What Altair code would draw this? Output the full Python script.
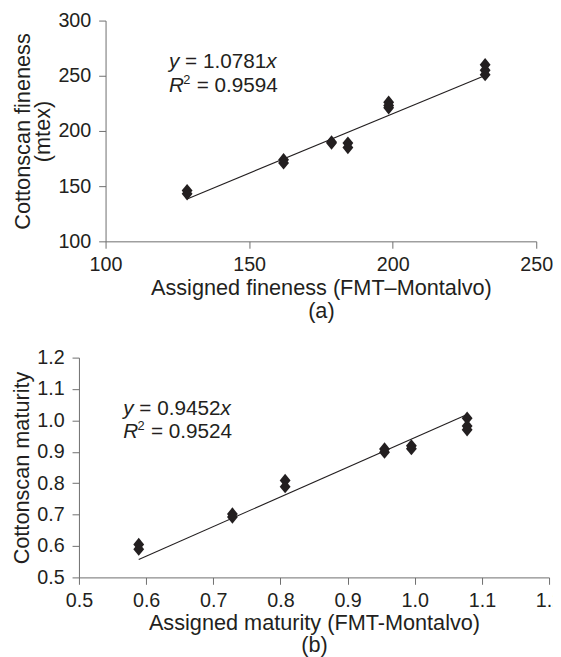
import altair as alt
import pandas as pd

# ---------------- data ----------------
# Panel (a): fineness
fin_x = [128.4, 128.4, 162.0, 162.0, 178.7, 178.7, 184.4, 184.4,
         198.6, 198.6, 198.6, 232.2, 232.2, 232.2]
fin_y = [146, 143, 174, 171, 190, 189, 189, 185,
         226, 223, 221, 260, 255, 251]
fin_slope = 1.0781
fin_eq = "= 1.0781"
fin_r2 = "= 0.9594"
fin_xticks = [100, 150, 200, 250]
fin_yticks = [100, 150, 200, 250, 300]

# Panel (b): maturity
mat_x = [0.589, 0.589, 0.7285, 0.7285, 0.807, 0.807, 0.955, 0.955,
         0.995, 0.995, 1.078, 1.078, 1.078]
mat_y = [0.605, 0.590, 0.702, 0.692, 0.809, 0.789, 0.909, 0.899,
         0.919, 0.910, 1.007, 0.982, 0.970]
mat_slope = 0.9452
mat_eq = "= 0.9452"
mat_r2 = "= 0.9524"
mat_xticks = [0.5, 0.6, 0.7, 0.8, 0.9, 1.0, 1.1, 1.2]
mat_yticks = [0.5, 0.6, 0.7, 0.8, 0.9, 1.0, 1.1, 1.2]

INK = "#231f20"
AXIS = "#6e6e6e"
FONT = "Liberation Sans"
DIAMOND = "M0,-1.1L0.9,0L0,1.1L-0.9,0Z"


def text_part(txt, x, y, size=21, italic=False):
    return alt.Chart(pd.DataFrame({"t": [txt]})).mark_text(
        align="left", baseline="alphabetic", font=FONT, fontSize=size,
        fontStyle="italic" if italic else "normal", color=INK
    ).encode(x=alt.value(x), y=alt.value(y), text="t:N")


def panel(xs, ys, slope, eq, r2, xdom, ydom, xticks, yticks, fmt,
          xtitle, ytitle, w, h, inset, ax0, ay0,
          ytitle_pad, ytitle_lh, xtitle_pad, xtitle_lh):
    pts = pd.DataFrame({"x": xs, "y": ys})
    lo, hi = min(xs), max(xs)
    fit = pd.DataFrame({"x": [lo, hi], "y": [slope * lo, slope * hi]})

    xenc = alt.X("x:Q",
                 scale=alt.Scale(domain=xdom, range=[inset, inset + w],
                                 nice=False, zero=False),
                 axis=alt.Axis(values=xticks, format=fmt, title=xtitle,
                               labelFlush=False, labelOverlap=False,
                               labelPadding=7,
                               titlePadding=xtitle_pad,
                               titleLineHeight=xtitle_lh))
    yenc = alt.Y("y:Q", scale=alt.Scale(domain=ydom, nice=False, zero=False),
                 axis=alt.Axis(values=yticks, format=fmt, title=ytitle,
                               offset=-inset, labelOverlap=False,
                               labelPadding=8, titlePadding=ytitle_pad,
                               titleLineHeight=ytitle_lh))

    line = alt.Chart(fit).mark_line(color=INK, strokeWidth=1.1).encode(x=xenc, y=yenc)
    dots = alt.Chart(pts).mark_point(shape=DIAMOND, filled=True, size=150,
                                     color=INK, opacity=1).encode(x=xenc, y=yenc)

    x0 = inset + ax0
    ann = [
        text_part("y", x0, ay0, italic=True),
        text_part(eq, x0 + 16.3, ay0),
        text_part("x", x0 + 98.6, ay0, italic=True),
        text_part("R", x0, ay0 + 23.5, italic=True),
        text_part("2", x0 + 14.5, ay0 + 23.5 - 8, size=13),
        text_part(r2, x0 + 28, ay0 + 23.5),
    ]
    return alt.layer(line, dots, *ann).properties(width=inset + w, height=h)


# panel (a) plot area starts 27 px to the right of panel (b)'s
top = panel(fin_x, fin_y, fin_slope, fin_eq, fin_r2, [100, 250], [100, 300],
            fin_xticks, fin_yticks, "d",
            ["Assigned fineness (FMT\u2013Montalvo)", "(a)"],
            ["Cottonscan fineness", "(mtex)"],
            437, 224, 27, 64.4, 48.5, 4, 20, 3, 23)

bottom = panel(mat_x, mat_y, mat_slope, mat_eq, mat_r2, [0.5, 1.2], [0.5, 1.2],
               mat_xticks, mat_yticks, ".1f",
               ["Assigned maturity (FMT-Montalvo)", "(b)"],
               "Cottonscan maturity",
               477, 223, 0, 45, 58, 3, 20, 2, 22)

# fixed-size canvas: content beyond the right edge is clipped, as in the original
chart = alt.vconcat(top, bottom, spacing=27).properties(
    autosize=alt.AutoSizeParams(type="none"),
    padding={"top": 8, "left": 72, "right": 481, "bottom": 641},
).configure_view(stroke=None).configure_axis(
    grid=False, labelOverlap=False,
    domainColor=AXIS, tickColor=AXIS, domainWidth=1, tickWidth=1, tickSize=7,
    labelFont=FONT, titleFont=FONT, labelFontSize=20, titleFontSize=22,
    titleFontWeight="normal", labelColor=INK, titleColor=INK,
)

chart.save("out.html", embed_options={"renderer": "svg", "actions": False})
